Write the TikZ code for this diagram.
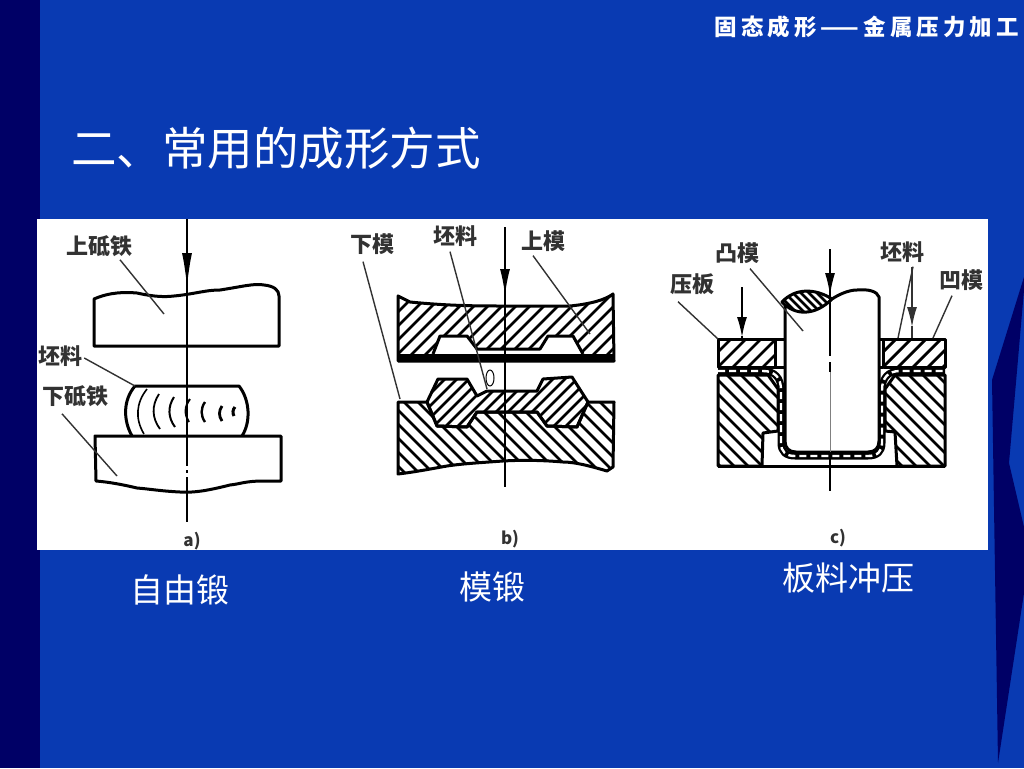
\documentclass[tikz,border=0pt]{standalone}
\usepackage{fontspec}
\setmainfont{Noto Sans CJK SC}
\newfontfamily\headfont[LetterSpace=18]{Noto Sans CJK SC}
\usetikzlibrary{arrows.meta}
\definecolor{slideblue}{RGB}{9,58,178}
\definecolor{slidenavy}{RGB}{0,0,102}
\definecolor{printgray}{RGB}{50,50,50}
\tikzset{
    outline/.style={line width=3pt, black, line join=round},
    hatchline/.style={line width=2.8pt, black},
    leader/.style={line width=1.4pt, printgray},
    axisline/.style={line width=1.5pt, black},
    forcearrow/.style={line width=1.5pt, black, -{Latex[length=#1, width=10pt]}, shorten >=-1pt},
    forcearrow/.default={28pt},
    printlabel/.style={text=printgray, font=\fontsize{22}{22}\selectfont\bfseries, inner sep=0pt},
    partlabel/.style={text=printgray, font=\fontsize{17}{17}\selectfont\bfseries, inner sep=0pt},
    caption/.style={text=white, font=\fontsize{33}{33}\selectfont, inner sep=0pt}
}
% hatching of a closed path, slanted up or down
\newcommand{\hatchup}[2]{
    \begin{scope}
        \clip #1;
        \foreach \i in {0,#2,...,1100} {
                \draw[hatchline] (\i,500) -- ({\i+320},180);
            }
    \end{scope}
}
\newcommand{\hatchdown}[2]{
    \begin{scope}
        \clip #1;
        \foreach \i in {0,#2,...,1100} {
                \draw[hatchline] (\i,180) -- ({\i+320},500);
            }
    \end{scope}
}
\begin{document}
\begin{tikzpicture}[x=1pt, y=-1pt]
    \useasboundingbox (0,0) rectangle (1024,768);
    % Slide background
    \fill[slideblue] (0,0) rectangle (1024,768);
    \fill[slidenavy] (0,0) rectangle (40,768);
    \fill[slidenavy] (1024,277) -- (992,380) -- (998,763) -- (1024,593) -- (1024,527) -- (1009,463) -- (1024,290) -- cycle;
    % Slide texts
    \node[text=white, anchor=east, inner sep=0pt, font=\fontsize{22.5}{22.5}\selectfont\bfseries] (header) at (1019,27) {\headfont 固态成形——金属压力加工};
    \node[text=white, anchor=west, inner sep=0pt, font=\fontsize{45.5}{45.5}\selectfont] (title) at (71,148) {二、常用的成形方式};
    \node[caption] (capA) at (180,590) {自由锻};
    \node[caption] (capB) at (492,587) {模锻};
    \node[caption] (capC) at (848,578) {板料冲压};
    % White panel
    \fill[white] (37,219) rectangle (988,550);

    % Panel a: open die forging
    \draw[outline] (94,346) -- (94,299) .. controls (110,292) and (125,292) .. (137,293) .. controls (155,297) and (165,297) .. (174,296) .. controls (195,294) and (205,290) .. (220,290) .. controls (240,287) and (255,283) .. (264,285) .. controls (274,286) and (279,290) .. (279,296) -- (279,346) -- cycle;
    \draw[outline] (95,436) -- (281,436) -- (281,481) -- (264,481) .. controls (245,481) and (240,484) .. (230,485) .. controls (210,490) and (195,493) .. (180,492) .. controls (160,491) and (150,489) .. (137,488) .. controls (120,484) and (108,482) .. (96,481) -- cycle;
    \draw[outline] (132,436) .. controls (123,420) and (123,400) .. (135,386) -- (239,386) .. controls (250,400) and (251,422) .. (242,436);
    % Grain flow lines
    \foreach \xa/\ya/\xb/\yb/\w in {147/389/144/434/1.6, 159/394/160/429/1.8, 174/397/175/427/2, 190/399/189/422/2, 205/402/205/422/2.4, 222/406/222/421/2.8, 235/407/234/416/3} {
            \draw[line width=\w pt, black] (\xa,\ya) to[bend right=35] (\xb,\yb);
        }
    % Axis and force
    \coordinate (axisAtop) at (187,219);
    \coordinate (axisAtip) at (187,286);
    \coordinate (axisAend) at (187,436);
    \coordinate (axisAlow) at (187,522);
    \draw[axisline] (axisAtop) -- (axisAend);
    \draw[forcearrow=34pt] (axisAtop) -- (axisAtip);
    \draw[axisline, dash pattern=on 30pt off 4pt on 3pt off 4pt on 60pt] (axisAend) -- (axisAlow);
    % Labels
    \node[printlabel] (labUpper) at (99,246) {上砥铁};
    \node[printlabel] (labBlankA) at (60,356) {坯料};
    \node[printlabel] (labLower) at (75,396) {下砥铁};
    \node[partlabel] (capa) at (192,541) {a)};
    \coordinate (endUpper) at (164,314);
    \coordinate (endBlankA) at (135,386);
    \coordinate (endLower) at (117,476);
    \draw[leader] ([shift={(21,3)}]labUpper.south) -- (endUpper);
    \draw[leader] ([shift={(2,2)}]labBlankA.east) -- (endBlankA);
    \draw[leader] ([shift={(-13,7)}]labLower.south) -- (endLower);

    % Panel b: closed die forging
    \def\dieUpper{(398,296) -- (410,302) .. controls (450,306) and (480,306) .. (503,306) -- (570,306) .. controls (590,304) and (605,300) .. (613,294) -- (614,361) -- (398,361) -- cycle}
    \def\dieLower{(398,402) -- (427,402) -- (437,426) -- (467,427) -- (477,412) -- (537,412) -- (547,426) -- (577,427) -- (588,402) -- (614,402) -- (613,467) -- (607,471) .. controls (590,466) and (575,462) .. (563,462) .. controls (540,460) and (520,460) .. (503,461) .. controls (475,463) and (460,464) .. (447,466) .. controls (430,469) and (415,472) .. (398,474) -- cycle}
    \def\workB{(427,402) -- (438,379) -- (467,379) -- (477,396) -- (487,391) -- (537,391) -- (543,379) -- (572,377) -- (588,402) -- (577,427) -- (547,426) -- (537,412) -- (477,412) -- (467,427) -- (437,426) -- cycle}
    \hatchup{\dieUpper}{14}
    \hatchdown{\dieLower}{14}
    \hatchup{\workB}{12}
    \draw[outline] \dieUpper;
    \draw[outline] \dieLower;
    \draw[outline] \workB;
    % Upper cavity
    \fill[white] (433,356) -- (440,336) -- (467,336) -- (477,349) -- (540,349) -- (548,336) -- (573,336) -- (583,356) -- cycle;
    \draw[outline] (433,354) -- (440,336) -- (467,336) -- (477,349) -- (540,349) -- (548,336) -- (573,336) -- (583,354);
    \fill[black] (398,354) rectangle (614,361);
    % Axis and force
    \coordinate (axisBtop) at (505,227);
    \coordinate (axisBtip) at (505,294);
    \coordinate (axisBlow) at (505,487);
    \draw[axisline] (axisBtop) -- (axisBlow);
    \draw[forcearrow=26pt] (axisBtop) -- (axisBtip);
    \draw[line width=1pt, black] (490,378) ellipse (4pt and 8pt);
    % Labels
    \node[printlabel] (labLowerDie) at (372,244) {下模};
    \node[printlabel] (labBlankB) at (455,236) {坯料};
    \node[printlabel] (labUpperDie) at (543,241) {上模};
    \node[partlabel] (capb) at (510,539) {b)};
    \coordinate (endLowerDie) at (400,399);
    \coordinate (endBlankB) at (487,389);
    \coordinate (endUpperDie) at (590,334);
    \draw[leader] ([shift={(-9,7)}]labLowerDie.south) -- (endLowerDie);
    \draw[leader] ([shift={(-5,5)}]labBlankB.south) -- (endBlankB);
    \draw[leader] ([shift={(-10,4)}]labUpperDie.south) -- (endUpperDie);

    % Panel c: sheet stamping
    \def\holderL{(718,339) rectangle (775,367)}
    \def\holderR{(883,339) rectangle (945,367)}
    \def\dieL{(718,375) -- (768,375) -- (778,389) -- (778,431) -- (763,433) -- (762,466) -- (718,466) -- cycle}
    \def\dieR{(945,375) -- (895,375) -- (885,389) -- (885,431) -- (895,432) -- (897,466) -- (945,466) -- cycle}
    \def\lens{(782,302) .. controls (795,288) and (815,288) .. (832,299) .. controls (815,316) and (795,316) .. (782,302) -- cycle}
    \hatchup{\holderL}{15}
    \hatchup{\holderR}{15}
    \hatchdown{\dieL}{14}
    \hatchdown{\dieR}{14}
    \draw[outline] \holderL;
    \draw[outline] \holderR;
    \draw[outline] \dieL;
    \draw[outline] \dieR;
    \draw[outline] (775,339) -- (785,339);
    \draw[outline] (775,367) -- (785,367);
    \draw[outline] (879,339) -- (883,339);
    \draw[outline] (879,367) -- (883,367);
    \draw[outline] (718,466) -- (945,466);
    % Sheet blank as a wall with broken white core
    \def\sheetC{(718,371) -- (763,371) .. controls (775,371) and (781,378) .. (781,390) -- (781,443) .. controls (781,452) and (786,456) .. (795,456) -- (868,456) .. controls (877,456) and (882,452) .. (882,443) -- (882,390) .. controls (882,378) and (888,371) .. (900,371) -- (945,371)}
    \draw[black, line width=7pt, line join=round] \sheetC;
    \draw[white, line width=2.4pt, dash pattern=on 7pt off 4pt] \sheetC;
    % Punch
    \draw[outline, fill=white] (785,306) -- (785,441) .. controls (785,448) and (789,452) .. (796,452) -- (868,452) .. controls (875,452) and (879,448) .. (879,441) -- (879,297) .. controls (877,291) and (868,289) .. (857,290) .. controls (848,290) and (838,295) .. (832,299);
    \hatchdown{\lens}{8}
    \draw[outline] \lens;
    % Axis and forces
    \coordinate (axisCtop) at (830,249);
    \coordinate (axisCtip) at (830,294);
    \coordinate (axisCmid) at (830,356);
    \coordinate (axisCdot) at (830,362);
    \coordinate (axisCdoe) at (830,372);
    \coordinate (axisCbot) at (830,452);
    \coordinate (axisCend) at (830,491);
    \coordinate (forceTop) at (742,287);
    \coordinate (forceTip) at (742,336);
    \coordinate (forceEnd) at (742,339);
    \draw[axisline] (axisCtop) -- (axisCmid);
    \draw[axisline] (axisCdot) -- (axisCdoe);
    \draw[line width=0.5pt, gray] (axisCdoe) -- (axisCbot);
    \draw[axisline] (axisCbot) -- (axisCend);
    \draw[forcearrow=22pt] (axisCtop) -- (axisCtip);
    \draw[forcearrow=20pt] (forceTop) -- (forceTip);
    \draw[axisline] (forceTip) -- (forceEnd);
    % Labels
    \node[printlabel] (labPlate) at (692,284) {压板};
    \node[printlabel] (labPunch) at (737,253) {凸模};
    \node[printlabel] (labBlankC) at (902,252) {坯料};
    \node[printlabel] (labDie) at (961,280) {凹模};
    \node[partlabel] (capc) at (838,538) {c)};
    \coordinate (endPlate) at (718,339);
    \coordinate (endPunch) at (803,331);
    \coordinate (endBlankCa) at (898,338);
    \coordinate (tipBlankCb) at (912,326);
    \coordinate (endBlankCb) at (912,338);
    \coordinate (endDie) at (933,338);
    \draw[leader] ([shift={(-14,7)}]labPlate.south) -- (endPlate);
    \draw[leader] ([shift={(13,5)}]labPunch.south) -- (endPunch);
    \draw[leader] ([shift={(11,4)}]labBlankC.south) -- (endBlankCa);
    \draw[forcearrow=20pt, printgray] ([shift={(10,4)}]labBlankC.south) -- (tipBlankCb);
    \draw[leader] (tipBlankCb) -- (endBlankCb);
    \draw[leader] ([shift={(-9,5)}]labDie.south) -- (endDie);
\end{tikzpicture}
\end{document}
